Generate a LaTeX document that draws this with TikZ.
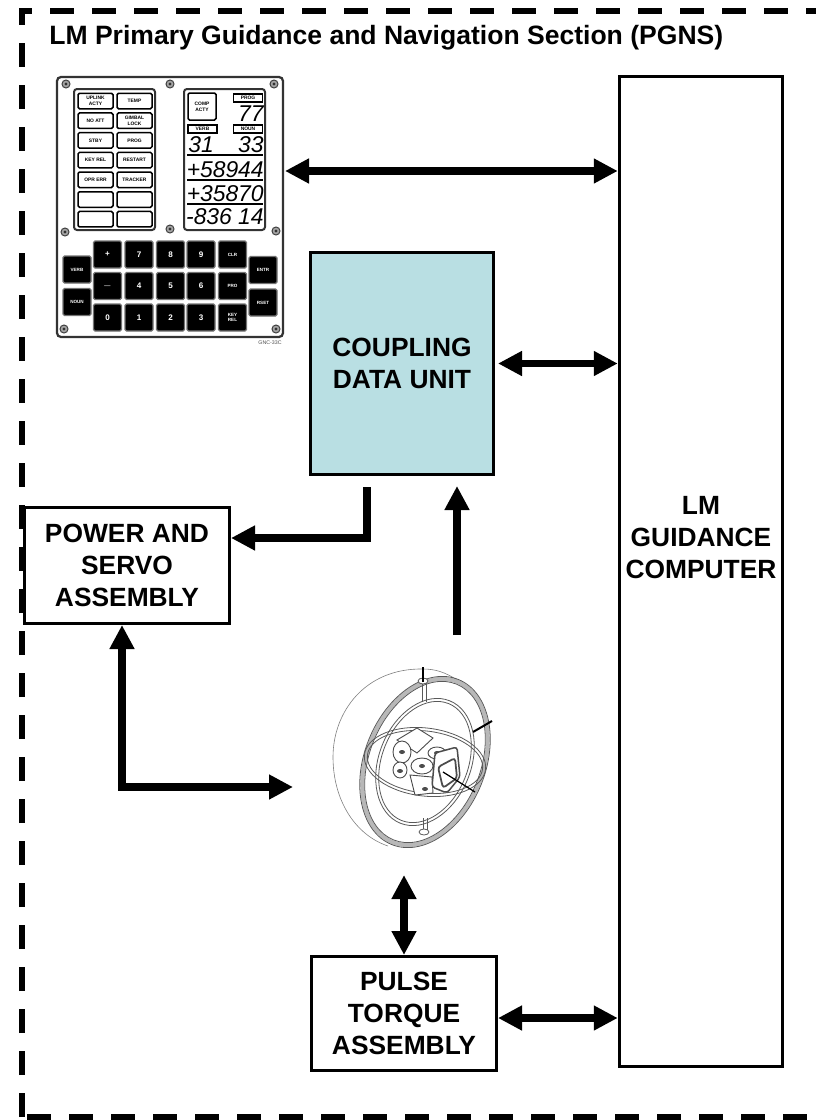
\documentclass[tikz,border=0pt]{standalone}
\usepackage{fontspec}
\setmainfont{Liberation Sans}
\usetikzlibrary{arrows.meta,calc}
\definecolor{cdublue}{HTML}{B9DFE3}
\tikzset{
  frameline/.style={line width=1.2mm,dash pattern=on 4.8mm off 3.6mm},
  blockbox/.style={draw,line width=.6mm,fill=white,inner sep=0pt,align=center,
    font=\fontsize{15}{18.2}\selectfont\bfseries},
  blocktext/.style={inner sep=0pt,align=center,font=\fontsize{15}{18.2}\selectfont\bfseries},
  link/.style={line width=1.5mm},
  lamp/.style={draw,line width=.3mm,rounded corners=.3mm,minimum width=7mm,minimum height=3.1mm,
    inner sep=0pt,align=center,font=\fontsize{2.8}{3.2}\selectfont\bfseries},
  lamptag/.style={draw,line width=.25mm,minimum width=5.8mm,minimum height=1.6mm,inner sep=0pt,
    font=\fontsize{2.8}{3.2}\selectfont\bfseries},
  readout/.style={inner sep=0pt,font=\fontsize{13}{13}\selectfont\itshape},
  keycap/.style={draw=black!55,line width=.25mm,fill=black,text=white,rounded corners=.3mm,
    minimum width=5.6mm,minimum height=5.4mm,inner sep=0pt,align=center,
    font=\fontsize{4.6}{5}\selectfont\bfseries},
  keysmall/.style={keycap,font=\fontsize{2.6}{3.2}\selectfont\bfseries},
  screw/.style={draw=black!75,line width=.2mm,fill=black!35},
  gimbal/.style={draw=black!65,line width=.16mm},
  gyro/.style={draw=black!70,line width=.18mm,fill=white}
}
\begin{document}
\begin{tikzpicture}[x=.2mm,y=-.2mm,>={Triangle[length=4.8mm,width=4.7mm]}]
  \useasboundingbox (0,0) rectangle (816,1120);

  \draw[frameline] (22,1117) -- (22,11) -- (816,11);
  \draw[frameline] (27,1117) -- (816,1117);

  \node[inner sep=0pt,anchor=west,font=\fontsize{15.1}{18}\selectfont\bfseries] (title) at (49,38)
    {LM Primary Guidance and Navigation Section (PGNS)};

  \node[blockbox,minimum width=32.7mm,minimum height=198mm] (lgc) at (701,571.5) {};
  \node[blocktext] (lgctext) at (701,538) {LM\\GUIDANCE\\COMPUTER};
  \node[blockbox,fill=cdublue,minimum width=36.6mm,minimum height=44.4mm] (cdu) at (402,363.5) {COUPLING\\DATA UNIT};
  \node[blockbox,minimum width=41mm,minimum height=23.2mm] (psa) at (127,565.5) {POWER AND\\SERVO\\ASSEMBLY};
  \node[blockbox,minimum width=37mm,minimum height=22.8mm] (pta) at (404,1013.5) {PULSE\\TORQUE\\ASSEMBLY};

  % display and keyboard panel
  \draw[line width=.45mm,draw=black!80,fill=white,rounded corners=.8mm] (57,77) rectangle (283,337);
  \foreach \sx/\sy in {66/84,170/84,274/84,65/232,170/229,276/231,64/329,276/329}{
    \draw[screw] (\sx,\sy) circle [radius=4];
    \draw[fill=black!80,draw=none] (\sx,\sy) circle [radius=1.6];
  }
  \draw[line width=.4mm,draw=black!80,fill=white,rounded corners=.6mm] (74,89) rectangle (155,230);
  \draw[line width=.4mm,draw=black!80,fill=white,rounded corners=.6mm] (184,89) rectangle (265,230);
  \foreach \lbl [count=\n from 0] in {{UPLINK\\ACTY},TEMP,NO ATT,{GIMBAL\\LOCK},STBY,PROG,KEY REL,RESTART,OPR ERR,TRACKER,{},{},{},{}}{
    \pgfmathtruncatemacro\col{mod(\n,2)}
    \pgfmathtruncatemacro\row{int(\n/2)}
    \node[lamp] (lamp\n) at ({95.5+39*\col},{101+19.7*\row}) {\lbl};
  }
  \node[lamp,minimum width=5.6mm,minimum height=5.4mm] (compacty) at (202,106.5) {COMP\\ACTY};
  \node[lamptag] (progtag) at (248,98) {PROG};
  \node[lamptag] (verbtag) at (202.5,129) {VERB};
  \node[lamptag] (nountag) at (248,129) {NOUN};
  \node[readout,anchor=east] (progval) at (264,114) {77};
  \node[readout,anchor=west] (verbval) at (188,145) {31};
  \node[readout,anchor=east] (nounval) at (264,145) {33};
  \node[readout,anchor=east] (regone) at (264,169.5) {+58944};
  \node[readout,anchor=east] (regtwo) at (264,194) {+35870};
  \node[readout,anchor=east] (regthree) at (264,217) {-836 14};
  \foreach \ly in {155,180,204}{
    \draw[line width=.25mm] (187,\ly) -- (263,\ly);
  }
  \foreach \lbl/\kx/\ky in {+/107.5/254.5,7/139/254.5,8/170.5/254.5,9/201/254.5,
      $-$/107.5/286,4/139/286,5/170.5/286,6/201/286,
      0/107.5/317.5,1/139/317.5,2/170.5/317.5,3/201/317.5}{
    \node[keycap] at (\kx,\ky) {\lbl};
  }
  \foreach \lbl/\kx/\ky in {CLR/232.5/254.5,PRO/232.5/286,{KEY\\REL}/232.5/317.5,
      VERB/77/269.5,NOUN/77/302,ENTR/263/270,RSET/263/302.5}{
    \node[keysmall] at (\kx,\ky) {\lbl};
  }
  \node[inner sep=0pt,text=black!70,font=\fontsize{3}{3}\selectfont] (gnctag) at (270,343) {GNC-33C};

  % stable member and gimbals
  \draw[line width=.12mm,draw=black!50] (457,680) .. controls (445,672) and (435,669) .. (423,669)
    .. controls (365,668) and (333,712) .. (333,757) .. controls (333,800) and (355,835) .. (388,846);
  \begin{scope}[shift={(425,762)},rotate=-22]
    \draw[line width=.8mm,draw=black!28] (0,0) circle [x radius=58,y radius=86.5];
    \draw[gimbal] (0,0) circle [x radius=60.5,y radius=89];
    \draw[gimbal] (0,0) circle [x radius=55.5,y radius=84];
    \draw[gimbal] (0,0) circle [x radius=46,y radius=66];
    \draw[gimbal] (0,0) circle [x radius=43,y radius=63];
  \end{scope}
  \begin{scope}[shift={(425,762)},rotate=-7]
    \draw[gimbal] (0,0) circle [x radius=61,y radius=34];
    \draw[gimbal] (0,0) circle [x radius=58,y radius=31];
  \end{scope}
  \draw[gimbal] (422,682) -- (422,702) (426,682) -- (426,702);
  \draw[gimbal] (423,818) -- (423,832) (427,818) -- (427,832);
  \draw[gimbal,fill=white] (423,681) circle [x radius=5,y radius=3];
  \draw[gimbal,fill=white] (424,832) circle [x radius=5,y radius=3];
  \draw[line width=.3mm] (423,667) -- (423,682);
  \draw[line width=.4mm] (473,732) -- (492,721);
  \draw[gyro] (397,740) -- (417,728) -- (433,738) -- (417,753) -- cycle;
  \draw[gyro] (410,775) -- (432,777) -- (433,793) -- (415,795) -- cycle;
  \draw[gyro] (402,752) circle [x radius=9,y radius=11];
  \draw[gyro] (400,770) circle [x radius=7,y radius=8];
  \draw[gyro] (422,766) circle [x radius=11,y radius=8];
  \draw[gyro] (437,753) circle [x radius=9,y radius=6];
  \foreach \gx/\gy in {402/752,400/771,422/766,437/753,425/789}{
    \draw[fill=black!70,draw=none] (\gx,\gy) circle [x radius=3,y radius=2];
  }
  \draw[gyro,line width=.3mm,rounded corners=.6mm] (435,753) -- (457,747) -- (460,777) -- (447,793) -- (432,787) -- cycle;
  \draw[gyro,line width=.35mm,rounded corners=.6mm] (438,767) -- (455,758) -- (457,778) -- (443,788) -- cycle;
  \draw[line width=.25mm] (443,772) -- (475,792);

  \coordinate (dskyport) at (285,171);
  \coordinate (cduout) at (367,487);
  \coordinate (cduin) at (457,486);
  \coordinate (imutop) at (457,635);
  \coordinate (imuleft) at (293,787);
  \coordinate (imubottom) at (404,875);

  \draw[link,<->] (dskyport) -- (dskyport -| lgc.west);
  \draw[link,<->,shorten <=.6mm] (cdu.east) -- (cdu.east -| lgc.west);
  \draw[link,->] (cduout) |- (psa.east |- 0,538);
  \draw[link,->] (imutop) -- (cduin);
  \draw[link,<->] (imuleft) -| (psa.south -| 122,0);
  \draw[link,<->] (imubottom) -- (imubottom |- pta.north);
  \draw[link,<->] (pta.east |- 0,1018) -- (lgc.west |- 0,1018);
\end{tikzpicture}
\end{document}
